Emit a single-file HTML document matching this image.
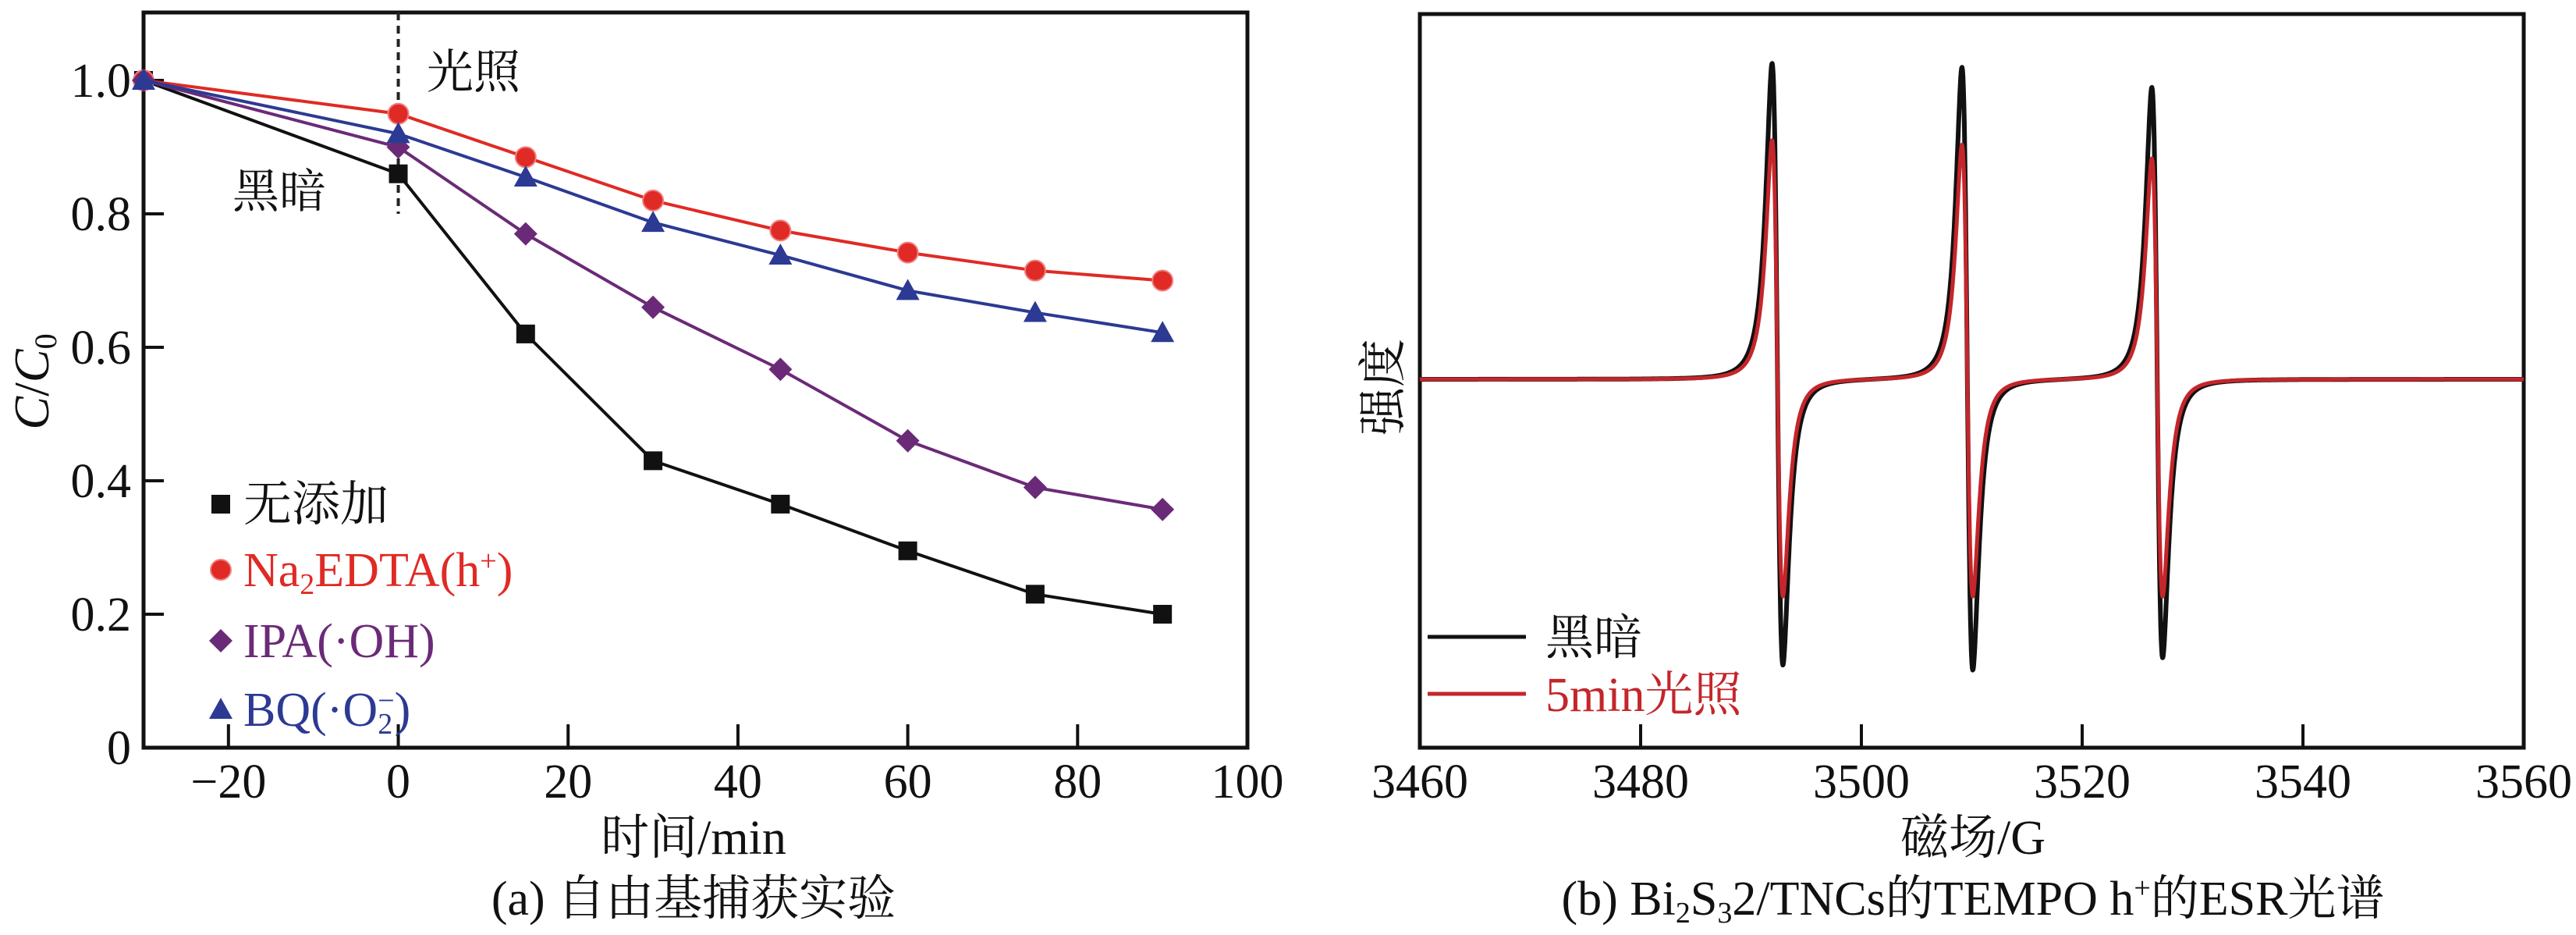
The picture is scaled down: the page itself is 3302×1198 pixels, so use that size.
<!DOCTYPE html>
<html><head><meta charset="utf-8">
<style>
html,body{margin:0;padding:0;background:#fff;}
svg{display:block;}
text{font-family:"Liberation Serif","Noto Serif CJK SC",serif;}
</style></head>
<body>
<svg id="fig" width="3302" height="1198" viewBox="0 0 3302 1198" xmlns="http://www.w3.org/2000/svg">
<g id="chartA"></g>
<g id="chartB"></g>
</svg>
<script>
// ---- Chart (a) data ----
const timeCats = [-30, 0, 15, 30, 45, 60, 75, 90];
const noAdditive = [1.0, 0.86, 0.62, 0.43, 0.365, 0.295, 0.23, 0.2];
const na2edta = [1.0, 0.95, 0.885, 0.82, 0.775, 0.742, 0.715, 0.70];
const ipa = [1.0, 0.90, 0.77, 0.66, 0.567, 0.46, 0.39, 0.357];
const bq = [1.0, 0.92, 0.855, 0.787, 0.738, 0.685, 0.652, 0.622];
const xTicksA = [-20, 0, 20, 40, 60, 80, 100];
const xTickLabelsA = ["\u221220", "0", "20", "40", "60", "80", "100"];
const yTicksA = [0, 0.2, 0.4, 0.6, 0.8, 1.0];
const yTickLabelsA = ["0", "0.2", "0.4", "0.6", "0.8", "1.0"];

// ---- Chart (b) data: line centres (G), amplitudes (a.u.) ----
const esrCenters = [3492.4, 3509.6, 3526.8];
const darkPosAmp = [506, 500, 468];
const darkNegAmp = [458, 466, 446];
const lightPosAmp = [383, 376, 354];
const lightNegAmp = [348, 348, 348];
const esrWidth = [0.85, 0.85, 0.85];
const xTicksB = [3460, 3480, 3500, 3520, 3540, 3560];

const NS = "http://www.w3.org/2000/svg";
function mk(parent, tag, attrs, txt){
  const e = document.createElementNS(NS, tag);
  for (const k in attrs) e.setAttribute(k, attrs[k]);
  if (txt !== undefined) e.textContent = txt;
  parent.appendChild(e);
  return e;
}

// ================= Chart A =================
const A = document.getElementById('chartA');
const aL = 184, aR = 1599, aT = 16, aB = 958;
const xA = v => aL + (v + 30) / 130 * (aR - aL);
const yA = v => aB - v * 855;

let e;
e = mk(A, 'rect', {x:aL, y:aT, width:aR-aL, height:aB-aT, fill:'none', stroke:'#111', 'stroke-width':5});



xTicksA.forEach((t, i) => {
  const x = xA(t);
  if (t < 100) {
    e = mk(A, 'line', {x1:x, x2:x, y1:aB, y2:aB-30, stroke:'#111', 'stroke-width':4});
    
    
  }
  e = mk(A, 'text', {x:x, y:1022, 'font-size':62, 'text-anchor':'middle', fill:'#111'}, xTickLabelsA[i]);
  
  
});
yTicksA.forEach((t, i) => {
  const y = yA(t);
  if (t > 0) {
    e = mk(A, 'line', {x1:aL, x2:aL+26, y1:y, y2:y, stroke:'#111', 'stroke-width':4});
    
    
  }
  e = mk(A, 'text', {x:aL-16, y:y+21, 'font-size':62, 'text-anchor':'end', fill:'#111'}, yTickLabelsA[i]);
  
  
});

e = mk(A, 'line', {x1:xA(0), x2:xA(0), y1:aT, y2:yA(0.8), stroke:'#222', 'stroke-width':4, 'stroke-dasharray':'10,7'});


e = mk(A, 'text', {x:547, y:113, 'font-size':60, fill:'#111'}, '光照');


e = mk(A, 'text', {x:298, y:266, 'font-size':60, fill:'#111'}, '黑暗');



function marker(g, type, x, y, color){
  let m;
  if (type === 'square') m = mk(g, 'rect', {x:x-12, y:y-12, width:24, height:24, fill:color});
  else if (type === 'circle') m = mk(g, 'circle', {cx:x, cy:y, r:13, fill:color, stroke:'#f08080', 'stroke-width':2});
  else if (type === 'diamond') m = mk(g, 'polygon', {points:`${x},${y-15} ${x+15},${y} ${x},${y+15} ${x-15},${y}`, fill:color});
  else m = mk(g, 'polygon', {points:`${x},${y-15} ${x+15},${y+12} ${x-15},${y+12}`, fill:color});
  return m;
}
const seriesA = [
  {name:'series-no-additive', vals:noAdditive, color:'#111', m:'square'},
  {name:'series-na2edta', vals:na2edta, color:'#e02a25', m:'circle'},
  {name:'series-ipa', vals:ipa, color:'#6b2a78', m:'diamond'},
  {name:'series-bq', vals:bq, color:'#2c3a93', m:'triangle'}
];
seriesA.forEach(s => {
  const g = mk(A, 'g', {});
  
  
  const pts = timeCats.map((t, i) => xA(t) + ',' + yA(s.vals[i])).join(' ');
  e = mk(g, 'polyline', {points:pts, fill:'none', stroke:s.color, 'stroke-width':4});
  
  
  timeCats.forEach((t, i) => {
    const m = marker(g, s.m, xA(t), yA(s.vals[i]), s.color);
    
    
  });
});

const legA = mk(A, 'g', {});


const legRows = [
  {y:646, m:'square', c:'#111', html:'无添加'},
  {y:730, m:'circle', c:'#e02a25', html:'Na<tspan font-size="38" dy="10">2</tspan><tspan dy="-10">EDTA(h</tspan><tspan font-size="38" dy="-20">+</tspan><tspan dy="20">)</tspan>'},
  {y:821, m:'diamond', c:'#6b2a78', html:'IPA(·OH)'},
  {y:909, m:'triangle', c:'#2c3a93', html:'BQ(·O<tspan font-size="38" dy="10">2</tspan><tspan font-size="38" dx="-19" dy="-30">−</tspan><tspan dy="20">)</tspan>'}
];
legRows.forEach(r => {
  const m = marker(legA, r.m, 283, r.y, r.c);
  
  
  const t = mk(legA, 'text', {x:312, y:r.y+21, 'font-size':62, fill:r.c});
  t.innerHTML = r.html;
  
  
});

e = mk(A, 'text', {x:889, y:1094, 'font-size':62, 'text-anchor':'middle', fill:'#111'}, '时间/min');


e = mk(A, 'text', {x:0, y:0, 'font-size':64, 'text-anchor':'middle', fill:'#111', transform:'translate(62,489) rotate(-90)'});
e.innerHTML = '<tspan font-style="italic">C</tspan>/<tspan font-style="italic">C</tspan><tspan font-size="40" dy="10">0</tspan>';


e = mk(A, 'text', {x:889, y:1172, 'font-size':62, 'text-anchor':'middle', fill:'#111'}, '(a) 自由基捕获实验');



// ================= Chart B =================
const B = document.getElementById('chartB');
const bL = 1820, bR = 3235, bT = 18, bB = 958, base = 486;
const xB = v => bL + (v - 3460) / 100 * (bR - bL);
const yB = v => base - v * 0.8;

e = mk(B, 'rect', {x:bL, y:bT, width:bR-bL, height:bB-bT, fill:'none', stroke:'#111', 'stroke-width':5});


xTicksB.forEach(t => {
  const x = xB(t);
  if (t > 3460 && t < 3560) {
    e = mk(B, 'line', {x1:x, x2:x, y1:bB, y2:bB-30, stroke:'#111', 'stroke-width':4});
    
    
  }
  e = mk(B, 'text', {x:x, y:1022, 'font-size':62, 'text-anchor':'middle', fill:'#111'}, String(t));
  
  
});

function lineShape(d, w){
  const f = -d / Math.pow(d*d + w*w, 2);
  const dm = w / Math.sqrt(3);
  const fm = dm / Math.pow(dm*dm + w*w, 2);
  return f / fm;
}
function esrPath(pos, neg){
  let p = '';
  for (let x = 3460; x <= 3560.001; x += 0.04) {
    let v = 0;
    esrCenters.forEach((c, i) => {
      const s = lineShape(x - c, esrWidth[i]);
      v += s > 0 ? s * pos[i] : s * neg[i];
    });
    p += (p ? 'L' : 'M') + xB(x).toFixed(1) + ',' + yB(v).toFixed(1);
  }
  return p;
}
e = mk(B, 'path', {d:esrPath(darkPosAmp, darkNegAmp), fill:'none', stroke:'#111', 'stroke-width':6, 'stroke-linejoin':'round'});


e = mk(B, 'path', {d:esrPath(lightPosAmp, lightNegAmp), fill:'none', stroke:'#c4262b', 'stroke-width':5, 'stroke-linejoin':'round'});



const legB = mk(B, 'g', {});


e = mk(legB, 'line', {x1:1830, x2:1956, y1:816, y2:816, stroke:'#111', 'stroke-width':5});


e = mk(legB, 'text', {x:1981, y:838, 'font-size':62, fill:'#111'}, '黑暗');


e = mk(legB, 'line', {x1:1830, x2:1956, y1:889, y2:889, stroke:'#c4262b', 'stroke-width':5});


e = mk(legB, 'text', {x:1981, y:911, 'font-size':62, fill:'#c4262b'}, '5min光照');



e = mk(B, 'text', {x:2529, y:1094, 'font-size':62, 'text-anchor':'middle', fill:'#111'}, '磁场/G');


e = mk(B, 'text', {x:0, y:0, 'font-size':62, 'text-anchor':'middle', fill:'#111', transform:'translate(1794,496) rotate(-90)'}, '强度');


e = mk(B, 'text', {x:2529, y:1172, 'font-size':62, 'text-anchor':'middle', fill:'#111'});
e.innerHTML = '(b) Bi<tspan font-size="38" dy="10">2</tspan><tspan dy="-10">S</tspan><tspan font-size="38" dy="10">3</tspan><tspan dy="-10">2/TNCs的TEMPO h</tspan><tspan font-size="38" dy="-22">+</tspan><tspan dy="22">的ESR光谱</tspan>';


</script>
</body></html>
